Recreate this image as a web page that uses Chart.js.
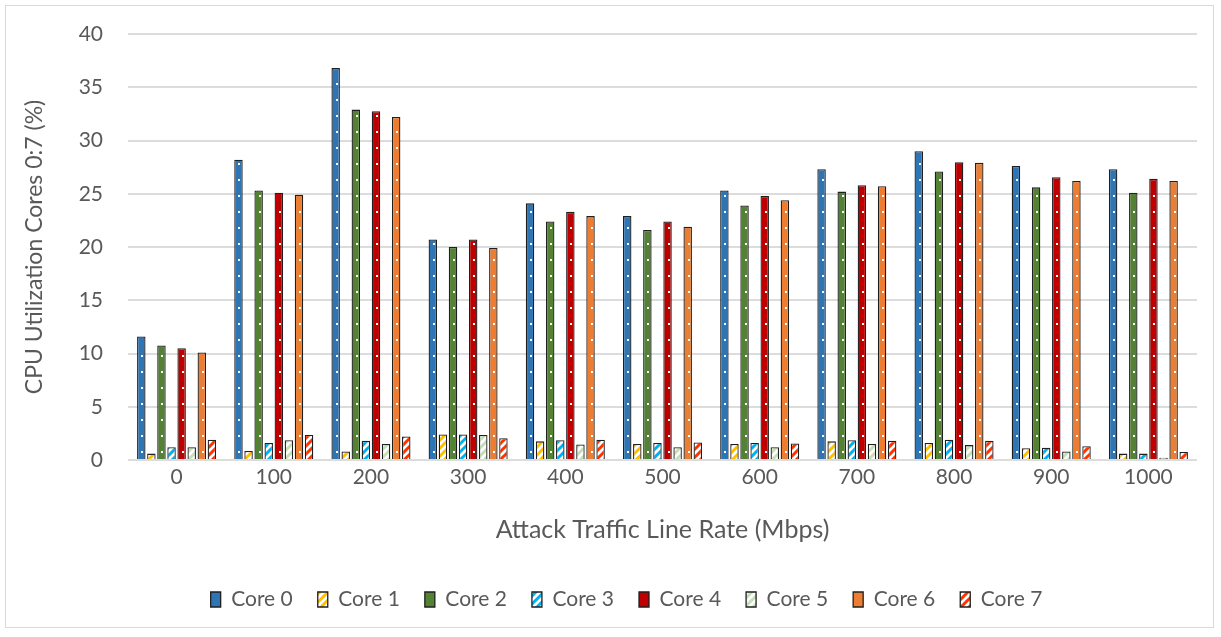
<!DOCTYPE html>
<html>
<head>
<meta charset="utf-8">
<script src="https://cdn.jsdelivr.net/npm/chart.js@4.4.1/dist/chart.umd.min.js"></script>
<style>
html,body{margin:0;padding:0;background:#fff;}
#wrap{position:absolute;left:0;top:0;width:1221px;height:637px;}
</style>
</head>
<body>
<div id="wrap"><canvas id="c" width="1221" height="637"></canvas></div>
<script>
const categories = ['0','100','200','300','400','500','600','700','800','900','1000'];
const core0 = [11.6, 28.2, 36.8, 20.7, 24.1, 22.9, 25.3, 27.3, 29.0, 27.6, 27.3];
const core1 = [0.6, 0.85, 0.8, 2.4, 1.75, 1.5, 1.5, 1.75, 1.6, 1.1, 0.6];
const core2 = [10.75, 25.3, 32.9, 20.0, 22.4, 21.6, 23.9, 25.2, 27.1, 25.6, 25.1];
const core3 = [1.2, 1.6, 1.8, 2.4, 1.85, 1.6, 1.6, 1.85, 1.9, 1.15, 0.6];
const core4 = [10.5, 25.1, 32.75, 20.7, 23.3, 22.4, 24.8, 25.8, 27.95, 26.55, 26.4];
const core5 = [1.2, 1.85, 1.5, 2.35, 1.45, 1.2, 1.2, 1.5, 1.4, 0.8, 0.2];
const core6 = [10.1, 24.9, 32.2, 19.9, 22.9, 21.9, 24.4, 25.7, 27.9, 26.2, 26.2];
const core7 = [1.9, 2.35, 2.2, 2.05, 1.9, 1.65, 1.55, 1.8, 1.8, 1.3, 0.75];
const seriesNames = ['Core 0','Core 1','Core 2','Core 3','Core 4','Core 5','Core 6','Core 7'];
const yTicks = [0,5,10,15,20,25,30,35,40];

const FONT = 'Lato, "Open Sans", sans-serif';
const TXT = '#595959';

function stripePattern(color){
  const c = document.createElement('canvas');
  c.width = 8; c.height = 8;
  const g = c.getContext('2d');
  g.fillStyle = '#ffffff'; g.fillRect(0,0,8,8);
  g.strokeStyle = color; g.lineWidth = 3;
  g.beginPath();
  g.moveTo(-2,10); g.lineTo(10,-2);
  g.moveTo(-10,10); g.lineTo(2,-2);
  g.moveTo(6,10); g.lineTo(18,-2);
  g.stroke();
  return g.createPattern(c,'repeat');
}

const fills = [
  '#2E75B6', stripePattern('#FFC000'),
  '#548235', stripePattern('#00B0F0'),
  '#C00000', stripePattern('#C5E0B4'),
  '#ED7D31', stripePattern('#FF3300')
];
const dataArrays = [core0,core1,core2,core3,core4,core5,core6,core7];

const datasets = dataArrays.map((d,i)=>({
  label: seriesNames[i],
  data: d,
  backgroundColor: fills[i],
  borderColor: '#1f1f1f',
  borderWidth: 1.3,
  categoryPercentage: 0.83,
  barPercentage: 0.84
}));

const borderPlugin = {
  id:'outerBorder',
  beforeDraw(chart){
    const ctx = chart.ctx;
    ctx.save();
    ctx.fillStyle='#fff'; ctx.fillRect(0,0,chart.width,chart.height);
    ctx.strokeStyle='#d9d9d9'; ctx.lineWidth=1;
    ctx.strokeRect(5.5,5.5,1208,622);
    ctx.restore();
  }
};

const legendShift = {
  id:'legendShift',
  afterLayout(chart){
    const lg = chart.legend;
    if(lg){ lg.left += 24; lg.right += 24; }
  }
};

const dotsPlugin = {
  id:'dots',
  afterDatasetsDraw(chart){
    const ctx = chart.ctx;
    ctx.save();
    ctx.fillStyle = '#ffffff';
    [0,2,4,6].forEach(di=>{
      const meta = chart.getDatasetMeta(di);
      meta.data.forEach(el=>{
        const top = Math.min(el.y, el.base), base = Math.max(el.y, el.base);
        for(let y = base - 8; y > top + 3; y -= 16){
          ctx.fillRect(Math.round(el.x), Math.round(y), 2, 2);
        }
      });
    });
    ctx.restore();
  }
};

new Chart(document.getElementById('c'), {
  type:'bar',
  data:{ labels: categories, datasets },
  plugins:[borderPlugin, dotsPlugin, legendShift],
  options:{
    responsive:false,
    animation:false,
    devicePixelRatio:1,
    layout:{ padding:{ left:8, right:24, top:34, bottom:17 } },
    plugins:{
      tooltip:{enabled:false},
      legend:{
        position:'bottom',
        labels:{
          color:TXT,
          font:{family:FONT, size:21},
          boxWidth:10,
          boxHeight:15,
          padding:25
        }
      }
    },
    scales:{
      x:{
        grid:{display:false, drawTicks:false},
        border:{display:false},
        ticks:{color:TXT, font:{family:FONT,size:21}, padding:5, maxRotation:0},
        title:{display:true, text:'Attack Traffic Line Rate (Mbps)', color:TXT, font:{family:FONT,size:25}, padding:{top:4,bottom:19}},
        afterFit(s){ s.height = 104; }
      },
      y:{
        min:0, max:40,
        afterBuildTicks(s){ s.ticks = yTicks.map(v=>({value:v})); },
        grid:{color:'#dcdcdc', lineWidth:2, drawTicks:false},
        border:{display:false},
        ticks:{color:TXT, font:{family:FONT,size:21}, padding:25},
        title:{display:true, text:'CPU Utilization Cores 0:7 (%)', color:TXT, font:{family:FONT,size:23}, padding:{top:13,bottom:0}},
        afterFit(s){ s.width = 120; s.paddingTop = 12; s.paddingBottom = 12; }
      }
    }
  }
});
</script>
</body>
</html>
